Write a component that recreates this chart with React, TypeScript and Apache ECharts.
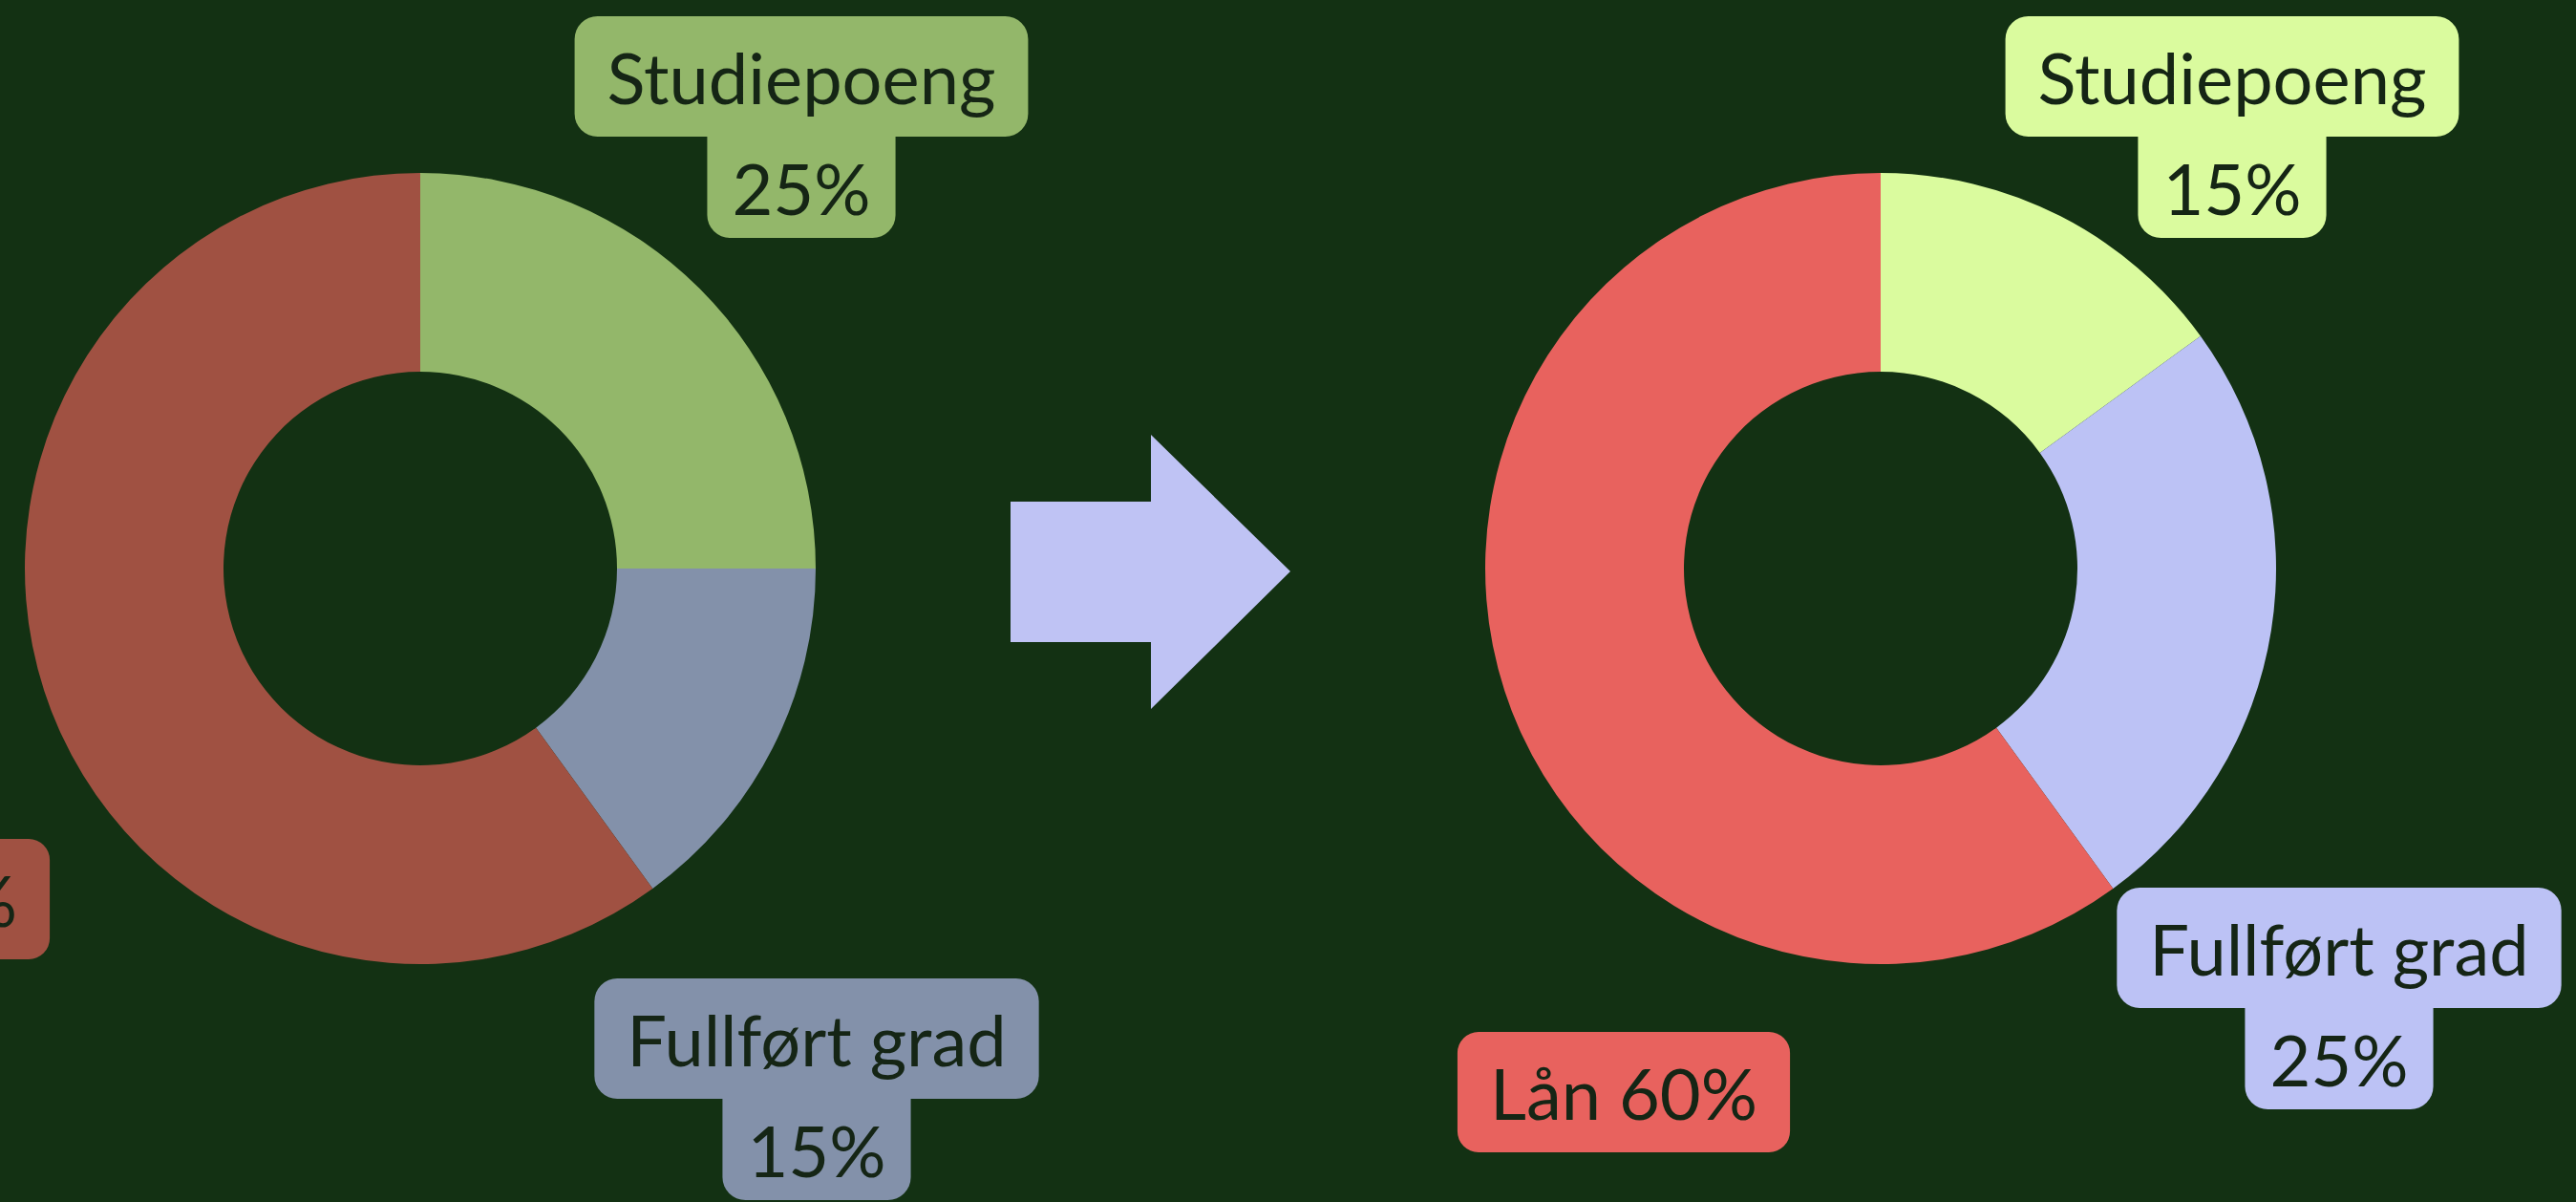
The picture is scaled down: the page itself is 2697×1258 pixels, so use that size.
import React, { useEffect, useRef } from 'react';
import * as echarts from 'echarts';

// ---- data ----
const categories = ['Studiepoeng', 'Fullført grad', 'Lån'];
const beforeValues = [25, 15, 60];
const afterValues = [15, 25, 60];
const beforeColors = ['#93b76a', '#8391aa', '#a05142'];
const afterColors = ['#dafb9e', '#bcc2f5', '#e8625e'];

// ---- layout / style ----
const W = 2697;
const H = 1258;
const BG = '#133113';
const TEXT = '#152515';
const FONT = 'Lato, "Noto Sans", sans-serif';
const beforeCenter = [440, 595];
const afterCenter = [1969, 595];
const radii = [206, 414];
const beforeLabelOffsets = [[399, -462], [415, 545], [-562, 346]];
const afterLabelOffsets = [[368, -462], [480, 450], [-269, 548]];
const arrowPts = [[1058, 525], [1205, 525], [1205, 455], [1351, 598], [1205, 742], [1205, 672], [1058, 672]];

function richFor(color: string) {
  const base = { fontSize: 74, color: TEXT, fontFamily: FONT, backgroundColor: color, align: 'center' as const };
  return {
    a: { ...base, lineHeight: 126, padding: [26, 34, 26, 34], borderRadius: 24 },
    b: { ...base, lineHeight: 106, padding: [16, 26, 16, 26], borderRadius: [0, 0, 24, 24] },
    s: { ...base, lineHeight: 126, padding: [26, 34, 26, 34], borderRadius: 22 },
  };
}

function makeSeries(values: number[], colors: string[], center: number[], offsets: number[][]) {
  return {
    type: 'pie',
    center,
    radius: radii,
    startAngle: 90,
    clockwise: true,
    silent: true,
    avoidLabelOverlap: false,
    labelLine: { show: false },
    data: categories.map((name, i) => ({
      name,
      value: values[i],
      itemStyle: { color: colors[i], borderWidth: 0 },
      label: {
        show: true,
        position: 'outside',
        formatter: i === 2 ? `{s|${name} ${values[i]}%}` : `{a|${name}}\n{b|${values[i]}%}`,
        rich: richFor(colors[i]),
      },
    })),
    labelLayout: (p: any) => {
      const o = offsets[p.dataIndex];
      return { x: center[0] + o[0], y: center[1] + o[1], align: 'center', verticalAlign: 'middle' };
    },
  };
}

export default function App() {
  const ref = useRef<HTMLDivElement>(null);
  useEffect(() => {
    if (!ref.current) return;
    const chart = echarts.init(ref.current, null, { renderer: 'svg' });
    chart.setOption({
      animation: false,
      backgroundColor: BG,
      series: [
        makeSeries(beforeValues, beforeColors, beforeCenter, beforeLabelOffsets),
        makeSeries(afterValues, afterColors, afterCenter, afterLabelOffsets),
      ],
      graphic: [
        {
          type: 'polygon',
          shape: { points: arrowPts },
          style: { fill: '#bfc3f4' },
          silent: true,
        },
      ],
    });
    return () => chart.dispose();
  }, []);
  return <div ref={ref} style={{ position: 'fixed', left: 0, top: 0, width: W, height: H }} />;
}
